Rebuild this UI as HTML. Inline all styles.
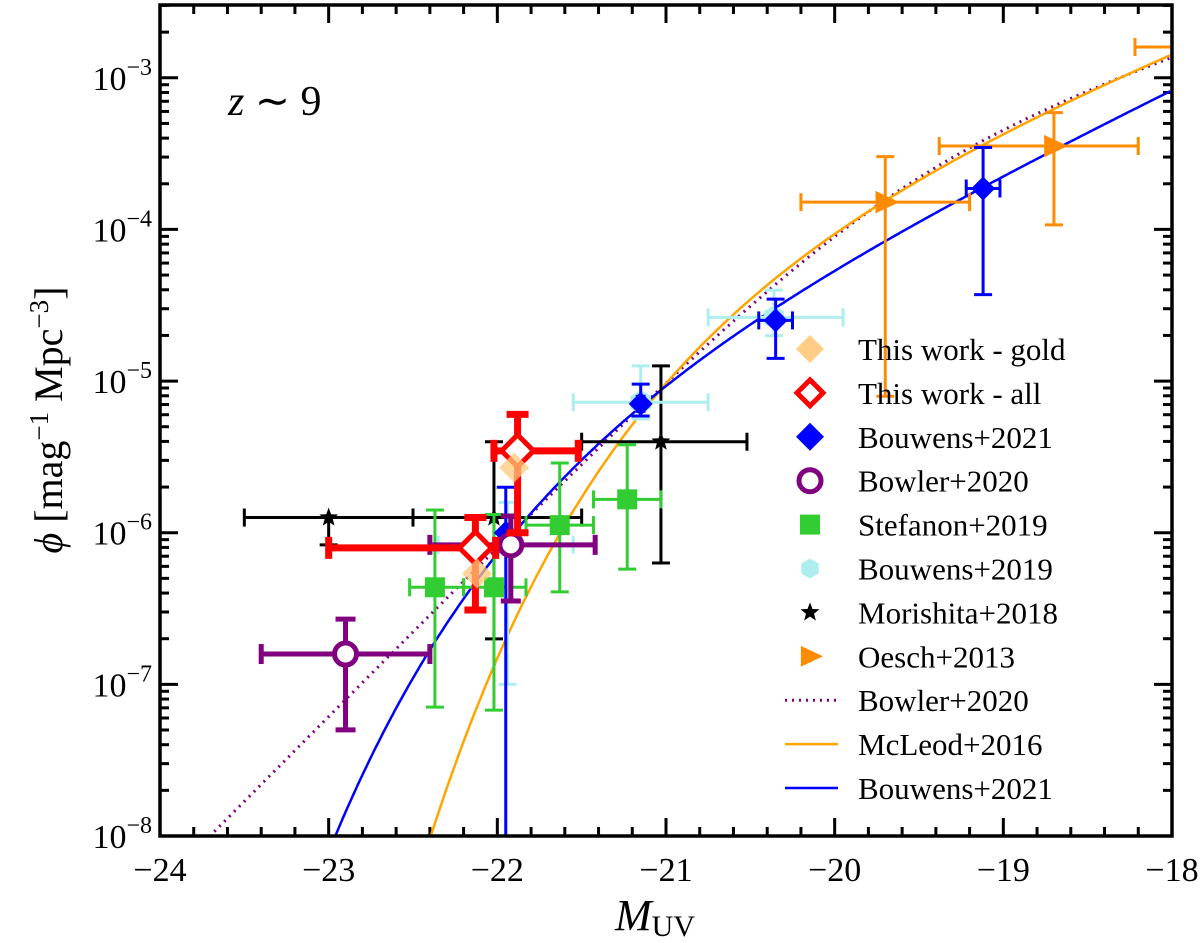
<!DOCTYPE html>
<html><head><meta charset="utf-8"><style>
html,body{margin:0;background:#fff;overflow:hidden;width:1200px;height:943px;}
svg{display:block;font-family:"Liberation Serif",serif;}
text{font-family:"Liberation Serif",serif;}
</style></head><body>
<svg id="chart" width="1200" height="943" font-family="Liberation Serif, serif"></svg>
<script>
const goldM=[-21.90,-22.12];
const goldLog=[-5.57,-6.27];
const allM=[-21.88,-22.13];
const allLog=[-5.46,-6.10];
const allXlo=[-22.02,-23.00];
const allXhi=[-21.52,-22.01];
const allYlo=[-6.00,-6.51];
const allYhi=[-5.22,-5.90];
const b21M=[-21.95,-21.15,-20.35,-19.12];
const b21Log=[-6.00,-5.15,-4.60,-3.73];
const b21Xlo=[-21.95,-21.17,-20.45,-19.22];
const b21Xhi=[-21.95,-21.13,-20.25,-19.02];
const b21Ylo=[-8.3,-5.23,-4.85,-4.43];
const b21Yhi=[-5.70,-5.02,-4.46,-3.46];
const bow20M=[-22.90,-21.92];
const bow20Log=[-6.80,-6.08];
const bow20Xlo=[-23.40,-22.40];
const bow20Xhi=[-22.40,-21.42];
const bow20Ylo=[-7.30,-6.45];
const bow20Yhi=[-6.57,-5.89];
const stefM=[-22.37,-22.02,-21.63,-21.23];
const stefLog=[-6.36,-6.36,-5.95,-5.78];
const stefXlo=[-22.52,-22.20,-21.83,-21.43];
const stefXhi=[-22.20,-21.83,-21.43,-21.03];
const stefYlo=[-7.15,-7.17,-6.39,-6.24];
const stefYhi=[-5.85,-5.88,-5.54,-5.42];
const b19M=[-21.94,-21.15,-20.36];
const b19Log=[-6.08,-5.14,-4.58];
const b19Xlo=[-22.35,-21.55,-20.75];
const b19Xhi=[-21.55,-20.75,-19.95];
const b19Ylo=[-7.00,-5.25,-4.70];
const b19Yhi=[-5.80,-4.90,-4.40];
const morM=[-23.00,-22.02,-21.03];
const morLog=[-5.90,-5.90,-5.40];
const morXlo=[-23.50,-22.50,-21.50];
const morXhi=[-22.50,-21.50,-20.52];
const morYlo=[-6.08,-6.70,-6.20];
const morYhi=[-5.90,-5.40,-4.90];
const oeM=[-19.70,-18.70];
const oeLog=[-3.82,-3.45];
const oeXlo=[-20.20,-19.38];
const oeXhi=[-19.20,-18.20];
const oeYlo=[-5.1,-3.97];
const oeYhi=[-3.52,-3.23];
const xTicks=[-24,-23,-22,-21,-20,-19,-18];
const yTicks=[-8,-7,-6,-5,-4,-3];

const L=160,R=1172,T=5,B=836;
const xmin=-24,xmax=-18,ylo=-8,yhi=-2.52;
const X=m=>L+(m-xmin)/(xmax-xmin)*(R-L);
const Y=l=>B-(l-ylo)/(yhi-ylo)*(B-T);
const svg=document.getElementById('chart');
const NS='http://www.w3.org/2000/svg';
function mk(tag,attrs,parent){const e=document.createElementNS(NS,tag);for(const k in attrs)e.setAttribute(k,attrs[k]);(parent||svg).appendChild(e);return e;}
const FF='Liberation Serif, serif';

const defs=mk('defs',{});
const cp=mk('clipPath',{id:'clip'},defs);
mk('rect',{x:L,y:T,width:R-L,height:B-T},cp);

const tg=mk('g',{stroke:'#000'});


for(let m=-24;m<=-18.001;m+=0.2){const major=Math.abs(m-Math.round(m))<1e-6;const len=major?18:9;const x=X(m);
 mk('line',{x1:x,x2:x,y1:B,y2:B-len,'stroke-width':3},tg);mk('line',{x1:x,x2:x,y1:T,y2:T+len,'stroke-width':3},tg);}
for(let d=-8;d<=-3;d++){for(let k=1;k<=9;k++){const l=d+Math.log10(k);if(l>yhi)break;const y=Y(l);const len=k==1?18:9;
 mk('line',{x1:L,x2:L+len,y1:y,y2:y,'stroke-width':3},tg);mk('line',{x1:R,x2:R-len,y1:y,y2:y,'stroke-width':3},tg);}}
xTicks.forEach(m=>{const t=mk('text',{x:X(m),y:881,'font-size':34,'text-anchor':'middle','font-family':FF});t.textContent='\u2212'+Math.abs(m);
 });
yTicks.forEach(d=>{const t=mk('text',{x:152,y:Y(d)+12,'font-size':34,'text-anchor':'end','font-family':FF});t.innerHTML='10<tspan dy="-15" font-size="24">\u2212'+Math.abs(d)+'</tspan>';
 });

function sch(M,ms,ps,a){const x=Math.pow(10,-0.4*(M-ms));return 0.4*Math.LN10*ps*Math.pow(x,a+1)*Math.exp(-x);}
function dpl(M,ms,ps,a,b){const d=M-ms;return ps/(Math.pow(10,0.4*(a+1)*d)+Math.pow(10,0.4*(b+1)*d));}
function curve(f,color,dash,name){let p='';for(let M=-24;M<=-18.0001;M+=0.01){const v=Math.log10(f(M));const y=Math.max(Y(v),-50);p+=(p?'L':'M')+X(M).toFixed(1)+','+Math.min(y,B+200).toFixed(1);}
 const e=mk('path',{d:p,fill:'none',stroke:color,'stroke-width':dash?3:2.5,'stroke-dasharray':dash||'none','clip-path':'url(#clip)'});
 }
curve(M=>dpl(M,-19.67,3.3e-4,-1.96,-3.8),'#800080','2 5','bowler2020-curve');
curve(M=>sch(M,-20.2,1.9e-4,-2.1),'#ffa500',null,'mcleod2016-curve');
curve(M=>sch(M,-21.15,2.0e-5,-2.33),'#0000ff',null,'bouwens2021-curve');

function marker(g,shape,x,y,s,fill,stroke,sw){
 if(shape=='diamond')return mk('polygon',{points:`${x},${y-s} ${x+s},${y} ${x},${y+s} ${x-s},${y}`,fill,stroke,'stroke-width':sw||0},g);
 if(shape=='circle')return mk('circle',{cx:x,cy:y,r:s,fill,stroke,'stroke-width':sw||0},g);
 if(shape=='square')return mk('rect',{x:x-s,y:y-s,width:2*s,height:2*s,fill},g);
 if(shape=='hex'){let p=[];for(let i=0;i<6;i++){const a=Math.PI/3*i+Math.PI/6;p.push((x+s*Math.cos(a)).toFixed(1)+','+(y+s*Math.sin(a)).toFixed(1));}return mk('polygon',{points:p.join(' '),fill},g);}
 if(shape=='star'){let p=[];for(let i=0;i<10;i++){const r=i%2?s*0.42:s;const a=-Math.PI/2+Math.PI/5*i;p.push((x+r*Math.cos(a)).toFixed(1)+','+(y+r*Math.sin(a)).toFixed(1));}return mk('polygon',{points:p.join(' '),fill},g);}
 if(shape=='tri')return mk('polygon',{points:`${x+s},${y} ${x-s*0.7},${y-s*0.8} ${x-s*0.7},${y+s*0.8}`,fill},g);
}
function series(name,M,Lg,xlo,xhi,yl,yh,color,sw,cap,shape,s,fill,stroke,msw){
 const g=mk('g',{'clip-path':'url(#clip)'});
 M.forEach((m,i)=>{const x=X(m),y=Y(Lg[i]);
  if(xlo){const x1=X(xlo[i]),x2=X(xhi[i]);if(x2-x1>1){mk('line',{x1,x2,y1:y,y2:y,stroke:color,'stroke-width':sw},g);
   mk('line',{x1,x2:x1,y1:y-cap,y2:y+cap,stroke:color,'stroke-width':sw},g);mk('line',{x1:x2,x2,y1:y-cap,y2:y+cap,stroke:color,'stroke-width':sw},g);}}
  if(yl){const y1=Y(yh[i]),y2=Y(yl[i]);mk('line',{x1:x,x2:x,y1,y2,stroke:color,'stroke-width':sw},g);
   mk('line',{x1:x-cap,x2:x+cap,y1,y2:y1,stroke:color,'stroke-width':sw},g);mk('line',{x1:x-cap,x2:x+cap,y1:y2,y2,stroke:color,'stroke-width':sw},g);}
  if(shape){const e=marker(g,shape,x,y,s,fill,stroke,msw);}
 });}
series('oesch2013',oeM,oeLog,oeXlo,oeXhi,oeYlo,oeYhi,'#ff8c00',3,9,'tri',14,'#ff8c00');
mk('line',{x1:1135,x2:1172,y1:47,y2:47,stroke:'#ff8c00','stroke-width':3});mk('line',{x1:1135,x2:1135,y1:38,y2:56,stroke:'#ff8c00','stroke-width':3});
series('morishita2018',morM,morLog,morXlo,morXhi,morYlo,morYhi,'#000',3,9,'star',10,'#000');
series('stefanon2019',stefM,stefLog,stefXlo,stefXhi,stefYlo,stefYhi,'#32cd32',3,9,'square',10,'#32cd32');
series('bouwens2019',b19M,b19Log,b19Xlo,b19Xhi,b19Ylo,b19Yhi,'#aeeeee',3,9,'hex',12,'#aeeeee');
series('bouwens2021',b21M,b21Log,b21Xlo,b21Xhi,b21Ylo,b21Yhi,'#0000ff',3,9,'diamond',12,'#0000ff');
series('bowler2020',bow20M,bow20Log,bow20Xlo,bow20Xhi,bow20Ylo,bow20Yhi,'#800080',5,10,'circle',11,'#fff','#800080',5);
series('this-work-all',allM,allLog,allXlo,allXhi,allYlo,allYhi,'#ff0000',7,11,'diamond',16,'#fff','#ff0000',5);
series('this-work-gold',goldM,goldLog,null,null,null,null,'#ffd08a',0,0,'diamond',15,'rgba(255,200,120,0.75)');

const fr=mk('rect',{x:L,y:T,width:R-L,height:B-T,fill:'none',stroke:'#000','stroke-width':3.5});


const leg=[['This work - gold','diamond','rgba(255,200,120,0.9)'],['This work - all','diamondo','#ff0000'],['Bouwens+2021','diamond','#0000ff'],
['Bowler+2020','circleo','#800080'],['Stefanon+2019','square','#32cd32'],['Bouwens+2019','hex','#aeeeee'],['Morishita+2018','star','#000'],
['Oesch+2013','tri','#ff8c00'],['Bowler+2020','dot','#800080'],['McLeod+2016','line','#ffa500'],['Bouwens+2021','line','#0000ff']];
const lg=mk('g',{});
leg.forEach((r,i)=>{const y=349+i*43.9;const x=810;const g=mk('g',{},lg);
 if(r[1]=='diamond')marker(g,'diamond',x,y,14,r[2]);
 else if(r[1]=='diamondo')marker(g,'diamond',x,y,13,'#fff',r[2],5);
 else if(r[1]=='circleo')marker(g,'circle',x,y,11,'#fff',r[2],5);
 else if(r[1]=='line')mk('line',{x1:785,x2:838,y1:y,y2:y,stroke:r[2],'stroke-width':2.5},g);
 else if(r[1]=='dot')mk('line',{x1:785,x2:838,y1:y,y2:y,stroke:r[2],'stroke-width':3,'stroke-dasharray':'2 5'},g);
 else marker(g,r[1],x,y,r[1]=='star'?10:(r[1]=='tri'?13:10),r[2]);
 const t=mk('text',{x:858,y:y+11,'font-size':31,'font-family':FF},g);t.textContent=r[0];});

const z=mk('text',{x:228,y:115,'font-size':42,'font-family':FF});z.innerHTML='<tspan font-style="italic">z</tspan> ∼ 9';

const xl=mk('text',{x:615,y:930,'font-size':44,'font-style':'italic','font-family':FF});xl.innerHTML='M<tspan font-style="normal" font-size="30" dy="6">UV</tspan>';

const yl=mk('text',{x:0,y:0,'font-size':40,'text-anchor':'middle','font-family':FF,transform:'translate(62,420) rotate(-90)'});
yl.innerHTML='<tspan font-style="italic">ϕ</tspan> [mag<tspan dy="-14" font-size="27">−1</tspan><tspan dy="14"> Mpc</tspan><tspan dy="-14" font-size="27">−3</tspan><tspan dy="14">]</tspan>';

</script>
</body></html>
